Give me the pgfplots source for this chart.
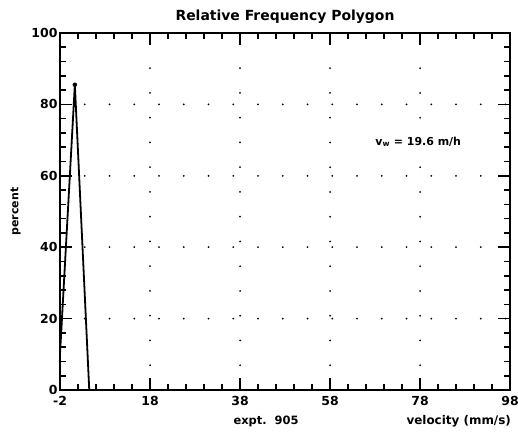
\documentclass[border=0pt]{standalone}
\usepackage{fontspec}
\setmainfont{DejaVu Sans}
\usepackage{pgfplots}
\pgfplotsset{compat=1.18}
\begin{document}
\begin{tikzpicture}[x=1bp,y=1bp]
\begin{axis}[
  at={(0,0)}, anchor=south west,
  scale only axis, width=450bp, height=357bp,
  xmin=-2, xmax=98, ymin=0, ymax=100,
  xtick={-2,18,38,58,78,98},
  ytick={0,20,40,60,80,100},
  minor x tick num=4, minor y tick num=4,
  tick align=inside,
  major tick length=12bp, minor tick length=6bp,
  tick style={line width=1.6bp, black},
  axis line style={line width=2.6bp},
  /pgf/number format/assume math mode=true,
  ticklabel style={font=\fontsize{12.5}{14}\selectfont\bfseries},
  xticklabel style={yshift=-3bp},
  yticklabel style={xshift=1bp},
  grid=major,
  major grid style={black, line width=2bp, line cap=round, dash pattern=on 0bp off 24.75bp},
  title={Relative Frequency Polygon},
  title style={font=\fontsize{14}{16}\selectfont\bfseries, yshift=0bp},
  ylabel={percent},
  ylabel style={font=\fontsize{11}{13}\selectfont\bfseries, yshift=4bp},
  clip=false,
]
\addplot[black, line width=1.8bp, line join=round] coordinates {(-2,10) (1.3,85.5) (4.5,0)};
\addplot[black, only marks, mark=*, mark size=2bp] coordinates {(1.3,85.5)};
\node[anchor=west, font=\fontsize{11}{13}\selectfont\bfseries] at (axis cs:67.3,69.5) {v\textsubscript{w} = 19.6 m/h};
\node[font=\fontsize{11.5}{13}\selectfont\bfseries] at (axis cs:43.8,-8.8) {expt.\ \ 905};
\node[font=\fontsize{12}{14}\selectfont\bfseries] at (axis cs:86.6,-8.8) {velocity (mm/s)};
\end{axis}
\pgfresetboundingbox
\path[use as bounding box] (-60,-45) rectangle (458,390);
\end{tikzpicture}
\end{document}
